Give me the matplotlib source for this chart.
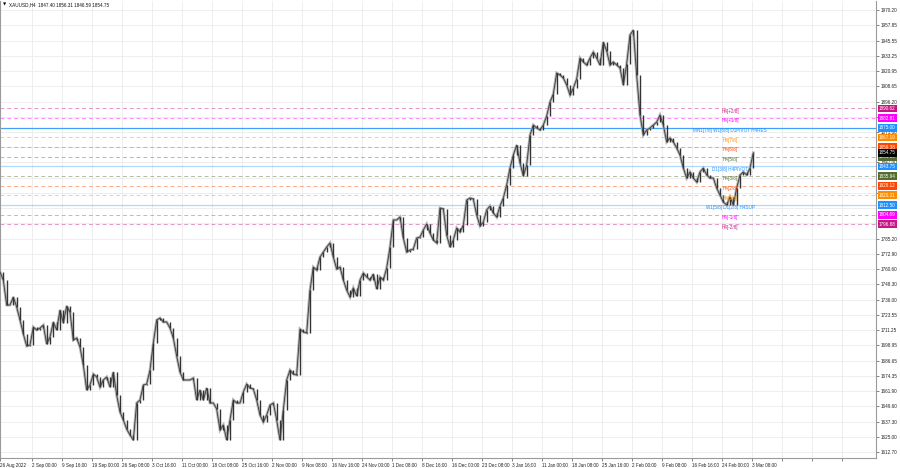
import numpy as np
import matplotlib
matplotlib.use("Agg")
from matplotlib import pyplot as plt

# XAUUSD H4 closes left to right
close = [1758.3, 1751.8, 1731.6, 1731.6, 1738.1, 1730.0, 1719.5, 1708.2, 1698.5, 1699.3,
         1713.8, 1711.4, 1713.0, 1715.4, 1700.1, 1705.7, 1717.9, 1711.4, 1727.6, 1717.1,
         1730.8, 1726.0, 1703.3, 1704.9, 1697.6, 1683.1, 1662.9, 1666.9, 1675.8, 1673.4,
         1665.3, 1671.0, 1673.4, 1665.3, 1677.4, 1658.8, 1645.1, 1638.6, 1631.3, 1626.5,
         1622.4, 1652.4, 1654.8, 1666.9, 1667.7, 1679.0, 1700.9, 1719.5, 1721.1, 1717.9,
         1717.9, 1713.0, 1704.9, 1690.4, 1677.4, 1671.0, 1671.0, 1671.0, 1672.6, 1654.8,
         1662.9, 1654.8, 1664.5, 1652.4, 1652.4, 1647.5, 1630.5, 1634.6, 1622.4, 1638.6,
         1654.8, 1652.4, 1652.4, 1661.3, 1667.7, 1664.5, 1663.7, 1654.8, 1642.6, 1637.0,
         1642.6, 1650.7, 1652.4, 1638.6, 1622.4, 1646.7, 1671.0, 1679.0, 1675.8, 1675.0,
         1712.2, 1709.8, 1709.0, 1743.7, 1762.3, 1759.9, 1770.4, 1774.5, 1778.5, 1781.8,
         1770.4, 1760.7, 1762.3, 1751.8, 1743.7, 1738.1, 1745.4, 1738.9, 1751.8, 1757.5,
         1754.3, 1751.8, 1756.7, 1744.6, 1754.3, 1751.8, 1761.5, 1778.5, 1800.4, 1800.4,
         1802.8, 1785.8, 1774.5, 1776.1, 1776.9, 1785.8, 1786.6, 1792.3, 1797.1, 1789.8,
         1784.2, 1781.8, 1810.1, 1809.3, 1788.2, 1778.5, 1784.2, 1793.9, 1790.7, 1796.3,
         1816.5, 1818.2, 1817.3, 1804.4, 1795.5, 1798.7, 1808.5, 1811.7, 1806.0, 1802.8,
         1811.7, 1818.2, 1828.7, 1842.4, 1852.9, 1861.0, 1846.5, 1836.0, 1844.8, 1869.1,
         1877.2, 1874.8, 1873.2, 1877.2, 1884.5, 1895.8, 1902.3, 1919.3, 1917.6, 1915.2,
         1909.6, 1901.5, 1907.1, 1914.4, 1931.4, 1928.2, 1925.7, 1931.4, 1936.2, 1931.4,
         1925.7, 1944.3, 1937.1, 1925.7, 1928.2, 1925.7, 1923.3, 1909.6, 1926.5, 1950.0,
         1954.0, 1917.6, 1885.3, 1869.1, 1873.2, 1874.8, 1877.2, 1879.6, 1885.3, 1877.2,
         1863.5, 1866.7, 1863.5, 1858.6, 1852.9, 1842.4, 1834.3, 1839.2, 1834.3, 1831.1,
         1839.2, 1842.4, 1836.8, 1834.3, 1834.3, 1826.2, 1820.6, 1814.9, 1812.5, 1819.0,
         1812.5, 1826.2, 1836.8, 1839.2, 1836.8, 1842.4, 1854.75]

x_labels = ["26 Aug 2022", "2 Sep 00:00", "9 Sep 16:00", "19 Sep 00:00", "26 Sep 08:00",
            "3 Oct 16:00", "11 Oct 00:00", "18 Oct 08:00", "25 Oct 16:00", "2 Nov 00:00",
            "9 Nov 08:00", "16 Nov 16:00", "24 Nov 00:00", "1 Dec 08:00", "8 Dec 16:00",
            "16 Dec 00:00", "23 Dec 08:00", "3 Jan 16:00", "11 Jan 00:00", "18 Jan 08:00",
            "25 Jan 16:00", "2 Feb 00:00", "9 Feb 08:00", "16 Feb 16:00", "24 Feb 00:00",
            "3 Mar 08:00"]

# price scale labels (the ones fully under the level boxes are left out)
y_labels = [1970.20, 1957.85, 1945.55, 1933.25, 1920.95, 1908.65, 1896.20, 1883.90,
            1871.60, 1847.00, 1822.40, 1785.20,
            1772.90, 1760.60, 1748.30, 1736.00, 1723.55, 1711.25, 1698.95, 1686.65,
            1674.35, 1661.90, 1649.60, 1637.30, 1625.00, 1612.70]
y_grid = [1859.30, 1834.70, 1810.10, 1797.80]

# murrey math levels
level_values = [1890.625, 1882.8125, 1875.0, 1867.1875, 1859.375, 1851.5625, 1843.75,
                1835.9375, 1828.125, 1820.3125, 1812.5, 1804.6875, 1796.875]
level_names = ["H4[+2/8]", "H4[+1/8]", "MN1[7/8] W1[6/8] D1PIVOT H4RES", "H4[7/8]",
               "H4[6/8]", "H4[5/8]", "D1[3/8] H4PIVOT", "H4[3/8]", "H4[2/8]", "H4[1/8]",
               "W1[5/8] D1[2/8] H4SUP", "H4[-1/8]", "H4[-2/8]"]
level_colors = ["#C71585", "#FF00FF", "#1E90FF", "#FF8C00", "#FF4500", "#556B2F",
                "#1E90FF", "#556B2F", "#FF4500", "#FF8C00", "#1E90FF", "#FF00FF", "#C71585"]

symbol = "XAUUSD,H4"
ohlc = [1847.40, 1856.31, 1846.59, 1854.75]
bid = 1854.75

W, H = 900, 468
fig = plt.figure(figsize=(9, 4.68), dpi=100)
ax = fig.add_axes([0.0, (H - 458) / H, 876 / W, 457 / H])
fnt = "Liberation Sans"
fs = 3.3

n = len(close)
step = 10 / 3  # px per point
x = np.arange(n)
ax.set_xlim(0, 876 / step)
ax.set_ylim(1607.9, 1977.5)

# grid
xt = [0] + [31.7 / step + 9 * k for k in range(28)]
ax.set_xticks(xt)
ax.set_xticklabels(x_labels + [""] * (len(xt) - len(x_labels)))
for lab in ax.get_xticklabels():
    lab.set_horizontalalignment("left")
ax.set_yticks(y_labels)
ax.set_yticklabels([f"{v:.2f}" for v in y_labels])
ax.grid(True, color="#ebebeb", lw=0.6)
for v in y_grid:
    ax.axhline(v, color="#ebebeb", lw=0.6, zorder=0.5)
ax.set_axisbelow(True)
ax.yaxis.tick_right()
ax.tick_params(axis="both", labelsize=fs, colors="#555555", length=2, width=0.5, pad=1.5)
for lab in ax.get_xticklabels() + ax.get_yticklabels():
    lab.set_fontfamily(fnt)
    lab.set_color("#222222")
for s in ["left", "right", "bottom"]:
    ax.spines[s].set_color("#9a9a9a")
    ax.spines[s].set_linewidth(0.8)
ax.spines["top"].set_visible(False)

# levels
for v, name, c in zip(level_values, level_names, level_colors):
    if c == "#1E90FF":
        if "RES" in name:
            ax.axhline(v, color=c, lw=0.9, alpha=0.85, zorder=1)
        else:
            ax.axhline(v, color=c, lw=0.9, alpha=0.35, zorder=1)
    else:
        ax.axhline(v, color=c, lw=0.7, alpha=0.45, ls=(0, (4, 3)), zorder=1)
    ax.text(219, v - 0.3, name, color=c, fontsize=fs, family=fnt, ha="center", va="top", zorder=4)
    ax.text(1.0035, v, f"{v:.2f}", transform=ax.get_yaxis_transform(), color="white",
            fontsize=fs, family=fnt, ha="left", va="center", clip_on=False, zorder=6,
            bbox=dict(boxstyle="square,pad=0.3", fc=c, ec="none"))
ax.text(1.0035, bid, f"{bid:.2f}", transform=ax.get_yaxis_transform(), color="white",
        fontsize=fs, family=fnt, ha="left", va="center", clip_on=False, zorder=7,
        bbox=dict(boxstyle="square,pad=0.3", fc="black", ec="none"))

# price: gray halo for the wicks, dark bodies on top
c = np.array(close)
ax.plot(x, c, color="#b4b4b4", lw=2.0, zorder=2.5, solid_joinstyle="miter")
ax.vlines(x[1:], np.minimum(c[:-1], c[1:]), np.maximum(c[:-1], c[1:]), color="#333333", lw=1.0, zorder=3)
ax.plot(x, c, color="#3a3a3a", lw=0.6, zorder=3)

# header
fig.text(3 / W, 1 - 5 / H, "\u25bc", fontsize=3, family="DejaVu Sans", va="center")
fig.text(9 / W, 1 - 5 / H, symbol + "  " + " ".join(f"{v:.2f}" for v in ohlc),
         fontsize=fs, family=fnt, va="center", color="#111111")

fig.savefig("out.png", dpi=100, facecolor="white")
